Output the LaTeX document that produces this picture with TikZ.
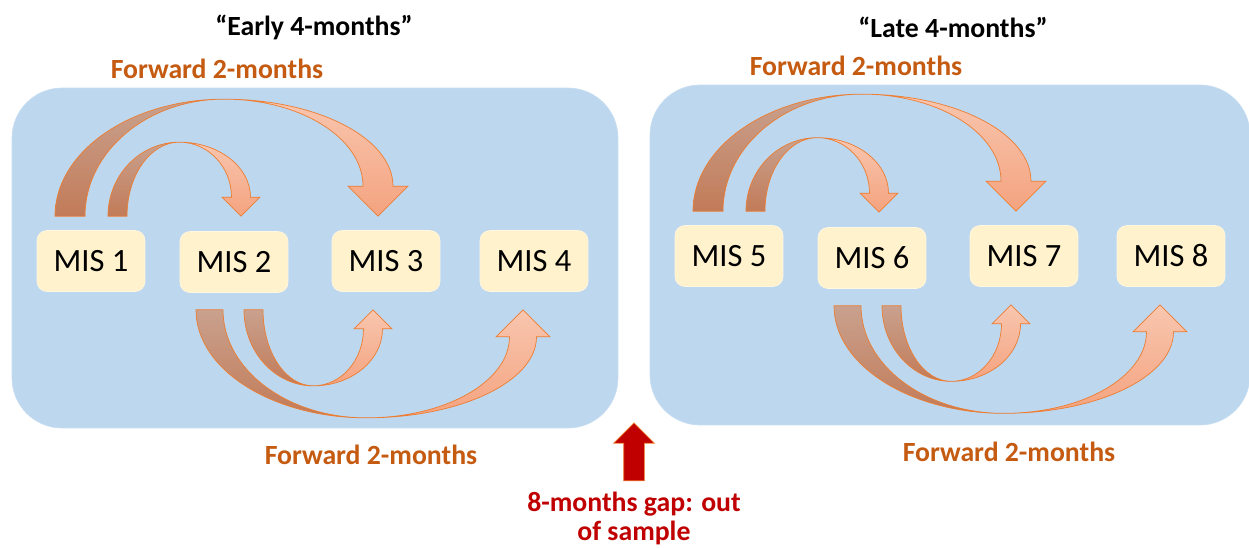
\documentclass[tikz,border=0pt]{standalone}
\usepackage{fontspec}
\setmainfont{Carlito}
\usetikzlibrary{calc,positioning,shapes.arrows}
\definecolor{panelBlue}{HTML}{BDD7EE}
\definecolor{boxCream}{HTML}{FFF2CC}
\definecolor{labelOrange}{HTML}{C55A11}
\definecolor{gapRed}{HTML}{C00000}
\definecolor{rimOrange}{HTML}{ED7D31}
\definecolor{tailTop}{HTML}{C9A18E}
\definecolor{tailBottom}{HTML}{C27B58}
\definecolor{headTop}{HTML}{F8C6AF}
\definecolor{headBottom}{HTML}{F4A37F}

% curved block arrow: #1 outer tail, #2 tip, #3 width, #4 arc height, #5 -1 above / 1 below
\newcommand{\ribbon}[5]{%
  \coordinate (rA) at #1;
  \coordinate (rB) at ($(rA)+(#3,0)$);
  \coordinate (rT) at #2;
  \coordinate (rSo) at ($(rT)+(#3/2,#5*#3)$);
  \coordinate (rSi) at ($(rT)+(-#3/2,#5*#3)$);
  \coordinate (rHo) at ($(rT)+(#3,#5*#3)$);
  \coordinate (rHi) at ($(rT)+(-#3,#5*#3)$);
  \coordinate (rC) at ($(rA)!0.5!(rT)+(#3/4,#5*#4)$);
  \shadedraw[tailpart] (rA) .. controls ($(rA)!0.552!(rA|-rC)$) and ($(rC)!0.552!(rA|-rC)$) .. (rC)
    .. controls ($(rC)!0.552!(rB|-rC)$) and ($(rB)!0.552!(rB|-rC)$) .. (rB) -- cycle;
  \shadedraw[headpart] (rC) .. controls ($(rC)!0.552!(rSo|-rC)$) and ($(rSo)!0.552!(rSo|-rC)$) .. (rSo)
    -- (rHo) -- (rT) -- (rHi) -- (rSi)
    .. controls ($(rSi)!0.552!(rSi|-rC)$) and ($(rC)!0.552!(rSi|-rC)$) .. (rC) -- cycle;
}

\begin{document}
\begin{tikzpicture}[x=0.02cm, y=-0.02cm,
    panel/.style={rectangle, rounded corners=1cm, fill=panelBlue, draw=panelBlue!85!white,
                  minimum width=12.12cm, minimum height=6.8cm},
    misbox/.style={rectangle, rounded corners=0.2cm, fill=boxCream, draw=boxCream!60!white,
                   minimum width=2.16cm, minimum height=1.22cm, font=\fontsize{18.5}{20}\selectfont},
    heading/.style={font=\fontsize{15.8}{18}\selectfont\bfseries},
    fwdlabel/.style={font=\fontsize{15.8}{18}\selectfont\bfseries, text=labelOrange},
    tailpart/.style={top color=tailTop, bottom color=tailBottom, draw=rimOrange, line width=0.4pt},
    headpart/.style={top color=headTop, bottom color=headBottom, draw=rimOrange, line width=0.4pt},
    gaparrow/.style={single arrow, rotate=90, fill=gapRed, draw=rimOrange, line width=0.4pt,
                     inner sep=0.2cm, single arrow head extend=0.2cm, minimum height=1.16cm}
  ]
  \useasboundingbox (0,0) rectangle (1249,548);

  \node[panel] (early) at (315,258) {};
  \node[panel, minimum width=12cm] (late) at (950,255) {};

  \node[misbox] (m1) at (91,261) {MIS 1};
  \node[misbox] (m2) at (234,262) {MIS 2};
  \node[misbox] (m3) at (386,261) {MIS 3};
  \node[misbox] (m4) at (534,261) {MIS 4};
  \node[misbox] (m5) at (729,256) {MIS 5};
  \node[misbox] (m6) at (872,258) {MIS 6};
  \node[misbox] (m7) at (1024,256) {MIS 7};
  \node[misbox] (m8) at (1171,256) {MIS 8};

  \node[heading] (earlyhead) at (314,27) {“Early 4-months”};
  \node[heading] (latehead) at (953,27) {“Late 4-months”};
  \node[fwdlabel] (fwdone) at (217,69) {Forward 2-months};
  \node[fwdlabel] (fwdtwo) at (371,455) {Forward 2-months};
  \node[fwdlabel] (fwdthree) at (856,66) {Forward 2-months};
  \node[fwdlabel] (fwdfour) at (1009,452) {Forward 2-months};

  \foreach \a/\b/\c/\d in {m1/m2/m3/m4, m5/m6/m7/m8} {
    \ribbon{($(\a.north)+(-36,-14)$)}{($(\c.north)+(-8,-14)$)}{30}{117}{-1}
    \ribbon{($(\a.north)+(17,-14)$)}{($(\b.north)+(7,-15)$)}{19}{74}{-1}
    \ribbon{($(\b.south)+(-38,17)$)}{($(\d.south)+(-11,18)$)}{27}{108}{1}
    \ribbon{($(\b.south)+(10,17)$)}{($(\c.south)+(-13,18)$)}{19}{76}{1}
  }

  \node[fwdlabel, text=gapRed, align=center, font=\fontsize{15.8}{16.5}\selectfont\bfseries]
    (gapnote) at (634,518) {8-months gap: out\\of sample};
  \node[gaparrow] (gap) at (634,457) {};
\end{tikzpicture}
\end{document}
